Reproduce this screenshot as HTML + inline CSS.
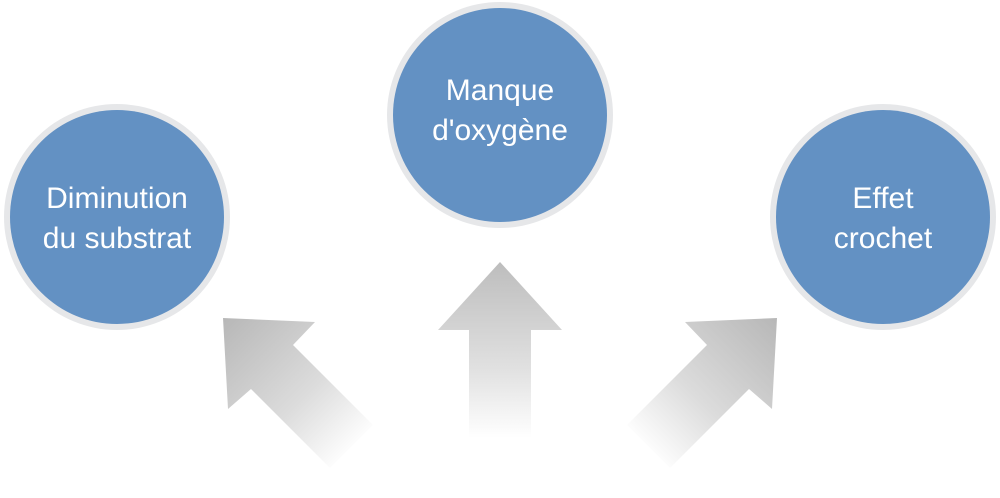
<!DOCTYPE html>
<html><head><meta charset="utf-8"><style>
html,body{margin:0;padding:0;background:#fff;width:1000px;height:498px;overflow:hidden}
</style></head><body>
<svg width="1000" height="498" viewBox="0 0 1000 498" xmlns="http://www.w3.org/2000/svg">
<defs>
<linearGradient id="gl" gradientUnits="userSpaceOnUse" x1="225" y1="320" x2="355" y2="450">
<stop offset="0" stop-color="#b8b8b8"/><stop offset="0.6" stop-color="#dcdcdc"/><stop offset="1" stop-color="#ffffff"/></linearGradient>
<linearGradient id="gr" gradientUnits="userSpaceOnUse" x1="775" y1="320" x2="645" y2="450">
<stop offset="0" stop-color="#b8b8b8"/><stop offset="0.6" stop-color="#dcdcdc"/><stop offset="1" stop-color="#ffffff"/></linearGradient>
<linearGradient id="gu" gradientUnits="userSpaceOnUse" x1="0" y1="262" x2="0" y2="438">
<stop offset="0" stop-color="#bdbdbd"/><stop offset="0.6" stop-color="#e0e0e0"/><stop offset="1" stop-color="#ffffff"/></linearGradient>
</defs>
<polygon points="223,318 315,322 293,345 373,425 330,468 251,389 228,409" fill="url(#gl)"/>
<polygon points="777,318 685,322 707,345 627,425 670,468 749,389 772,409" fill="url(#gr)"/>
<polygon points="500,262 562,330 531,330 531,438 469,438 469,330 438,330" fill="url(#gu)"/>
<g font-family="Liberation Sans, sans-serif" font-size="30" fill="#fff" text-anchor="middle">
<circle cx="117" cy="217" r="113" fill="#e6e7e9"/><circle cx="117" cy="217" r="107" fill="#6391c3"/>
<text x="117" y="208">Diminution</text><text x="117" y="248">du substrat</text>
<circle cx="500" cy="115" r="113" fill="#e6e7e9"/><circle cx="500" cy="115" r="107" fill="#6391c3"/>
<text x="500" y="100">Manque</text><text x="500" y="140">d'oxygène</text>
<circle cx="883" cy="217" r="113" fill="#e6e7e9"/><circle cx="883" cy="217" r="107" fill="#6391c3"/>
<text x="883" y="208">Effet</text><text x="883" y="248">crochet</text>
</g>
</svg>
</body></html>
